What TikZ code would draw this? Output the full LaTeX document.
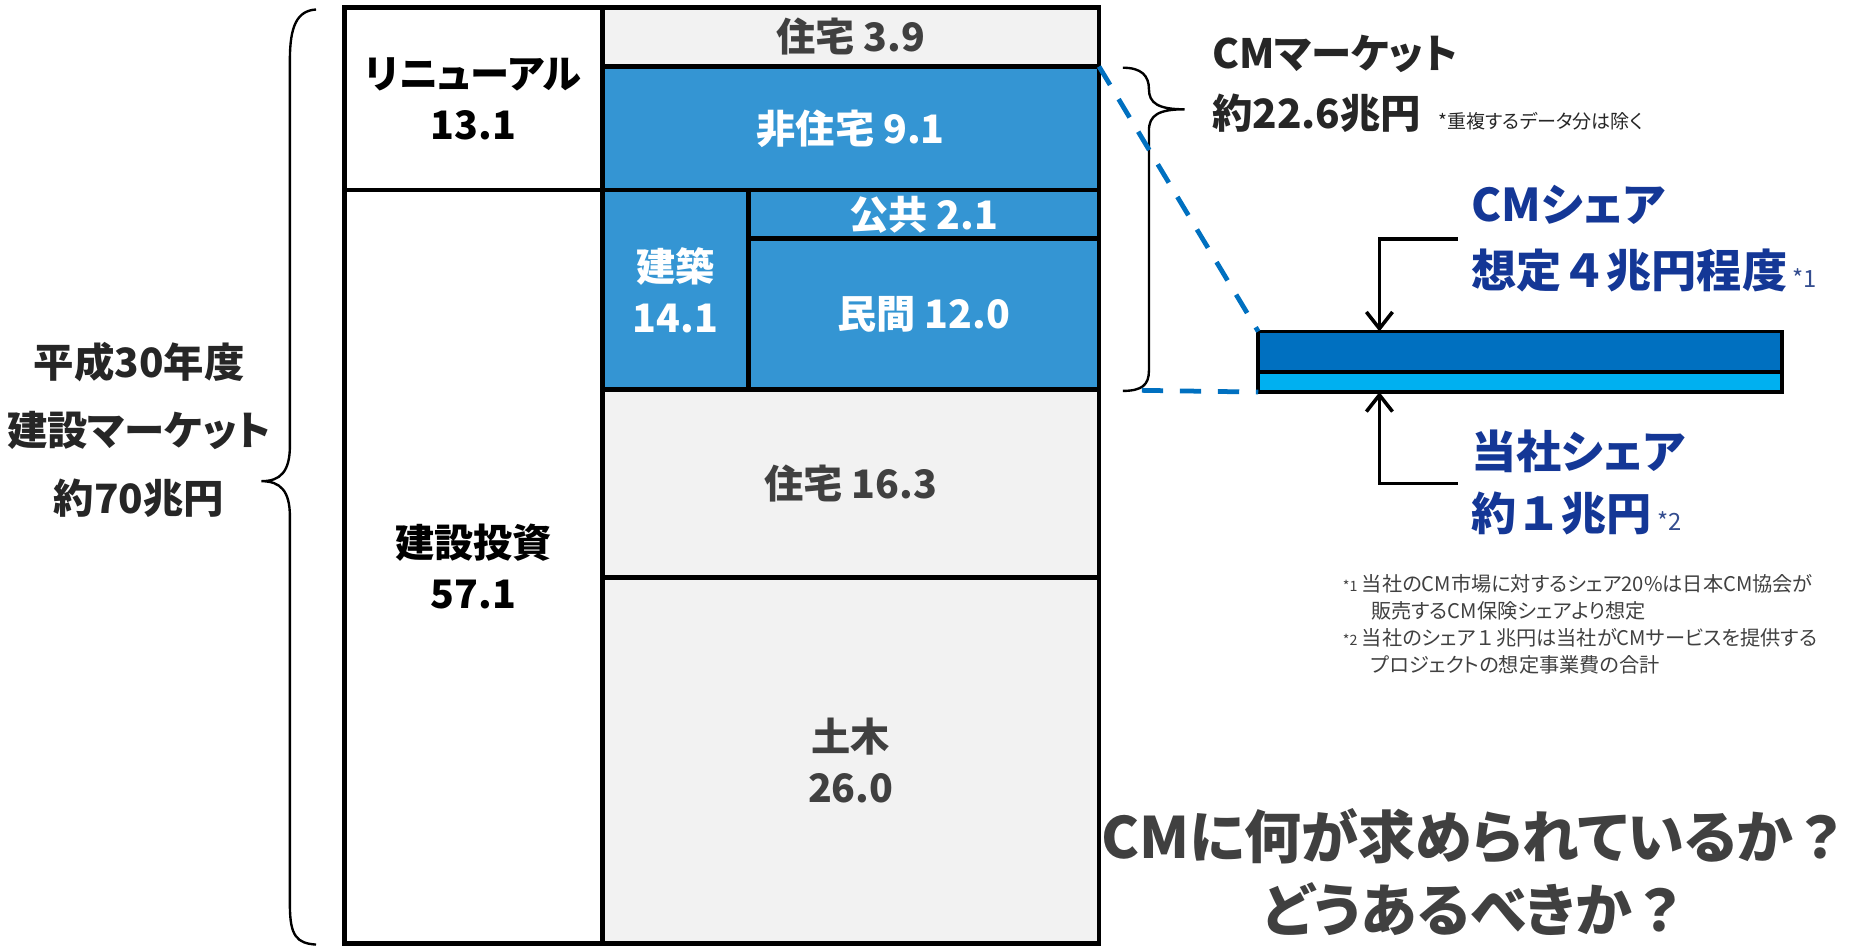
\documentclass[tikz,border=0pt]{standalone}
\usepackage{fontspec}
\setmainfont{Noto Sans CJK JP}[RawFeature=+palt]
\newfontfamily\jpfull{Noto Sans CJK JP}
\usetikzlibrary{arrows.meta}

\definecolor{cellblue}{RGB}{52,149,211}
\definecolor{cellgray}{RGB}{242,242,242}
\definecolor{txtgray}{RGB}{64,64,64}
\definecolor{txtdark}{RGB}{38,38,38}
\definecolor{shareblue}{RGB}{20,55,150}
\definecolor{bardark}{RGB}{0,112,192}
\definecolor{barlight}{RGB}{0,176,240}

% 全角のまま組む文字
\newcommand{\fw}[1]{{\jpfull #1}}

\begin{document}
\begin{tikzpicture}[
    % 1単位 = 1pt, y は下向き
    x=1pt, y=-1pt,
    % 積み上げのセル
    cell/.style={draw, line width=4pt, inner sep=0pt, outer sep=0pt, anchor=north west,
                 align=center, font=\bfseries\fontsize{33}{43}\selectfont},
    cellsize/.style 2 args={minimum width=#1pt, minimum height=#2pt},
    whitecell/.style={cell, fill=white, text=black},
    graycell/.style={cell, fill=cellgray, text=txtgray},
    bluecell/.style={cell, fill=cellblue, text=white},
    % 右側の帯
    bar/.style={draw, line width=3pt, inner sep=0pt, outer sep=0pt, anchor=north west},
    dashline/.style={draw=bardark, line width=4pt, dash pattern=on 18pt off 14pt},
    arr/.style={line width=3pt, -{Straight Barb[length=14pt, width=22pt]}},
    % 文字
    sidelbl/.style={align=center, text=txtdark, font=\bfseries\fontsize{34}{57}\selectfont},
    cmlbl/.style={anchor=west, inner sep=0pt, text=txtdark, font=\bfseries\fontsize{34}{40}\selectfont},
    share/.style={anchor=west, inner sep=0pt, text=shareblue, font=\bfseries\fontsize{38}{44}\selectfont},
    notemark/.style={anchor=base west, inner sep=0pt, text=shareblue!70!gray, font=\fontsize{20}{22}\selectfont},
    fn/.style={anchor=north west, align=left, inner sep=0pt, text=txtgray, font=\fontsize{17}{22.7}\selectfont},
    question/.style={align=center, text=txtgray, font=\bfseries\fontsize{48}{62}\selectfont}
]
    \useasboundingbox (0,0) rectangle (1568,797);

    % 左の列
    \node[whitecell, cellsize={217}{154}] (renewal) at (290,6) {リニューアル\\13.1};
    \node[whitecell, cellsize={217}{634}] (invest) at (290,160) {建設投資\\57.1};

    % 右の列
    \node[graycell, cellsize={418}{50}] (house1) at (507,6) {住宅 3.9};
    \node[bluecell, cellsize={418}{104}] (nonhouse) at (507,56) {非住宅 9.1};
    \node[bluecell, cellsize={123}{168}] (building) at (507,160) {建築\\14.1};
    \node[bluecell, cellsize={295}{41}] (public) at (630,160) {公共 2.1};
    \node[bluecell, cellsize={295}{127}] (private) at (630,201) {民間 12.0};
    \node[graycell, cellsize={418}{158}] (house2) at (507,328) {住宅 16.3};
    \node[graycell, cellsize={418}{308}] (civil) at (507,486) {土木\\26.0};
    \draw[line width=4pt] (renewal.north west) rectangle (civil.south east);

    % 左の括弧と全体
    \draw[line width=2pt] (266,8) .. controls (250,9) and (244,22) .. (244,50)
        -- (244,375) .. controls (244,397) and (236,405) .. (220,405)
        .. controls (236,405) and (244,413) .. (244,435)
        -- (244,762) .. controls (244,788) and (250,794) .. (266,795);
    \node[sidelbl] (market) at (117,362) {平成30年度\\建設マーケット\\約70兆円};

    % CMマーケットの括弧
    \draw[line width=2pt] (945,57) .. controls (961,57) and (967,64) .. (967,75)
        .. controls (967,87) and (975,92) .. (997,92)
        .. controls (975,92) and (967,97) .. (967,110)
        -- (967,312) .. controls (967,324) and (961,329) .. (945,329);
    \node[cmlbl] (cmmarket) at (1020,45) {CMマーケット};
    \node[cmlbl] (cmtotal) at (1020,95) {約22.6兆円};
    \node[anchor=base west, inner sep=0pt, text=txtdark, font=\fontsize{16}{18}\selectfont]
        (dup) at ([xshift=14pt]cmtotal.base east) {*重複するデータ分は除く};

    % シェアの帯
    \node[bar, fill=bardark, cellsize={441}{34}] (cmbar) at (1059,279) {};
    \node[bar, fill=barlight, cellsize={441}{17}] (ourbar) at (1059,313) {};
    \draw[dashline] (nonhouse.north east) -- (cmbar.north west);
    \draw[dashline, shorten <=36pt] (private.south east) -- (ourbar.south west);

    % 矢印
    \coordinate (cmtail) at (1227,201);
    \coordinate (ourtail) at (1227,407);
    \draw[arr] (cmtail) -| ([xshift=102pt]cmbar.north west);
    \draw[arr] (ourtail) -| ([xshift=102pt]ourbar.south west);

    \node[share] (cmshare) at (1238,172) {CMシェア};
    \node[share] (cmest) at (1238,228) {想定\fw{４}兆円程度};
    \node[notemark] (mark1) at ([xshift=4pt]cmest.base east) {*1};
    \node[share] (ourshare) at (1238,380) {当社シェア};
    \node[share] (ourest) at (1238,432) {約\fw{１}兆円};
    \node[notemark] (mark2) at ([xshift=4pt]ourest.base east) {*2};

    % 注記
    \node[fn] (notes) at (1130,483) {{\fontsize{12}{12}\selectfont *1} 当社のCM市場に対するシェア20\%は日本CM協会が\\
        \hspace*{1.4em}販売するCM保険シェアより想定\\
        {\fontsize{12}{12}\selectfont *2} 当社のシェア\fw{１}兆円は当社がCMサービスを提供する\\
        \hspace*{1.4em}プロジェクトの想定事業費の合計};

    % 問いかけ
    \node[question] (question) at (1242,734) {CMに何が求められているか\fw{？}\\どうあるべきか\fw{？}};
\end{tikzpicture}
\end{document}
